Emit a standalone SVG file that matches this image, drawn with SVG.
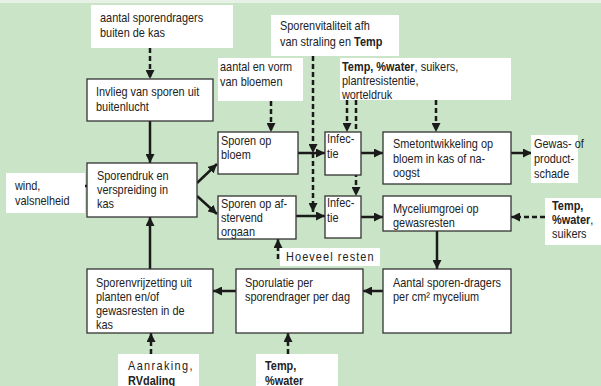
<svg xmlns="http://www.w3.org/2000/svg" width="601" height="386" viewBox="0 0 601 386">
<defs>
<style>
text{font-family:"Liberation Sans",Arial,sans-serif;font-size:12px;fill:#222;transform-box:fill-box;transform-origin:0 50%;transform:scaleX(0.91)}
.b{font-weight:bold}
.box{fill:#fff;stroke:#333;stroke-width:1.3}
.lab{fill:#fff}
.s{stroke:#1a1a1a;stroke-width:2.5;fill:none}
.d{stroke:#1a1a1a;stroke-width:2.5;fill:none;stroke-dasharray:5 3}
</style>
<marker id="ah" markerUnits="userSpaceOnUse" markerWidth="9" markerHeight="9" refX="9" refY="4.5" orient="auto">
<path d="M0,0 L9,4.5 L0,9 z" fill="#1a1a1a"/>
</marker>
</defs>
<rect x="0" y="0" width="601" height="386" fill="#c9e4c6"/>
<rect x="0" y="0" width="601" height="3" fill="#e8f1e6"/>

<g id="connectors">
<line class="d" x1="150" y1="48" x2="150" y2="79" marker-end="url(#ah)"/>
<line class="s" x1="150" y1="121" x2="150" y2="163" marker-end="url(#ah)"/>
<line class="d" x1="52" y1="186" x2="87" y2="186" marker-end="url(#ah)"/>
<line class="s" x1="197" y1="183" x2="217" y2="164" marker-end="url(#ah)"/>
<line class="s" x1="197" y1="196" x2="217" y2="214" marker-end="url(#ah)"/>
<line class="d" x1="271" y1="101" x2="271" y2="132" marker-end="url(#ah)"/>
<line class="s" x1="298" y1="153" x2="325" y2="153" marker-end="url(#ah)"/>
<line class="s" x1="296" y1="216" x2="325" y2="216" marker-end="url(#ah)"/>
<line class="d" x1="313" y1="56" x2="313" y2="153" marker-end="url(#ah)"/>
<line class="d" x1="313" y1="153" x2="313" y2="212" marker-end="url(#ah)"/>
<line class="d" x1="347" y1="100" x2="347" y2="132" marker-end="url(#ah)"/>
<line class="d" x1="356" y1="100" x2="356" y2="196" marker-end="url(#ah)"/>
<line class="d" x1="436" y1="100" x2="436" y2="132" marker-end="url(#ah)"/>
<line class="s" x1="361" y1="153" x2="383" y2="153" marker-end="url(#ah)"/>
<line class="s" x1="361" y1="217" x2="383" y2="217" marker-end="url(#ah)"/>
<line class="s" x1="511" y1="153" x2="532" y2="153" marker-end="url(#ah)"/>
<line class="d" x1="545" y1="217" x2="511" y2="217" marker-end="url(#ah)"/>
<line class="s" x1="437" y1="231" x2="437" y2="269" marker-end="url(#ah)"/>
<line class="s" x1="383" y1="291" x2="363" y2="291" marker-end="url(#ah)"/>
<line class="s" x1="236" y1="291" x2="213" y2="291" marker-end="url(#ah)"/>
<line class="d" x1="278" y1="259" x2="278" y2="239" marker-end="url(#ah)"/>
<line class="d" x1="151" y1="354" x2="151" y2="333" marker-end="url(#ah)"/>
<line class="d" x1="288" y1="354" x2="288" y2="333" marker-end="url(#ah)"/>
<line class="s" x1="150" y1="269" x2="150" y2="217" marker-end="url(#ah)"/>
</g>

<g id="lab-aantal-sporendragers">
<rect class="lab" x="91" y="5" width="142" height="43"/>
<text x="100" y="22">aantal sporendragers</text>
<text x="100" y="37">buiten de kas</text>
</g>
<g id="lab-vitaliteit">
<rect class="lab" x="271" y="15" width="128" height="41"/>
<text x="280" y="30">Sporenvitaliteit afh</text>
<text x="280" y="46">van straling en <tspan class="b">Temp</tspan></text>
</g>
<g id="lab-bloemen">
<rect class="lab" x="218" y="58" width="85" height="43"/>
<text x="220" y="71">aantal en vorm</text>
<text x="220" y="86">van bloemen</text>
</g>
<g id="lab-temp-top">
<rect class="lab" x="340" y="58" width="171" height="42"/>
<text x="342" y="71"><tspan class="b">Temp, %water</tspan>, suikers,</text>
<text x="342" y="85">plantresistentie,</text>
<text x="342" y="99">worteldruk</text>
</g>
<g id="invlieg">
<rect class="box" x="87" y="79" width="126" height="42"/>
<text x="96" y="96">Invlieg van sporen uit</text>
<text x="96" y="111">buitenlucht</text>
</g>
<g id="lab-wind">
<rect class="lab" x="6" y="173" width="79" height="40"/>
<text x="15" y="190">wind,</text>
<text x="15" y="205">valsnelheid</text>
</g>
<g id="sporendruk">
<rect class="box" x="87" y="163" width="110" height="54"/>
<text x="97" y="180">Sporendruk en</text>
<text x="97" y="194">verspreiding in</text>
<text x="97" y="208">kas</text>
</g>
<g id="sporen-bloem">
<rect class="box" x="218" y="132" width="80" height="42"/>
<text x="221" y="145">Sporen op</text>
<text x="221" y="159">bloem</text>
</g>
<g id="sporen-afstervend">
<rect class="box" x="218" y="196" width="78" height="43"/>
<text x="221" y="208">Sporen op af-</text>
<text x="221" y="222">stervend</text>
<text x="221" y="236">orgaan</text>
</g>
<g id="infectie-1">
<rect class="box" x="325" y="132" width="36" height="43"/>
<text x="327" y="143">Infec-</text>
<text x="327" y="158">tie</text>
</g>
<g id="infectie-2">
<rect class="box" x="325" y="196" width="36" height="42"/>
<text x="327" y="207">Infec-</text>
<text x="327" y="222">tie</text>
</g>
<g id="smet">
<rect class="box" x="383" y="132" width="128" height="52"/>
<text x="393" y="148">Smetontwikkeling op</text>
<text x="393" y="163">bloem in kas of na-</text>
<text x="393" y="177">oogst</text>
</g>
<g id="lab-gewas">
<rect class="lab" x="531" y="135" width="47" height="48"/>
<text x="534" y="148">Gewas- of</text>
<text x="534" y="163">product-</text>
<text x="534" y="178">schade</text>
</g>
<g id="mycelium">
<rect class="box" x="383" y="196" width="128" height="35"/>
<text x="393" y="213">Myceliumgroei op</text>
<text x="393" y="227">gewasresten</text>
</g>
<g id="lab-temp-right">
<rect class="lab" x="545" y="198" width="56" height="47"/>
<text x="552" y="210" class="b">Temp,</text>
<text x="552" y="224"><tspan class="b">%water</tspan>,</text>
<text x="552" y="238">suikers</text>
</g>
<g id="lab-hoeveel">
<rect class="lab" x="280" y="248" width="100" height="18"/>
<text x="286" y="261" style="letter-spacing:1.2px">Hoeveel resten</text>
</g>
<g id="aantal-sporendragers">
<rect class="box" x="383" y="269" width="128" height="64"/>
<text x="393" y="287">Aantal sporen-dragers</text>
<text x="393" y="301">per cm² mycelium</text>
</g>
<g id="sporulatie">
<rect class="box" x="236" y="269" width="127" height="64"/>
<text x="245" y="287">Sporulatie per</text>
<text x="245" y="301">sporendrager per dag</text>
</g>
<g id="sporenvrijzetting">
<rect class="box" x="87" y="269" width="126" height="64"/>
<text x="96" y="287">Sporenvrijzetting uit</text>
<text x="96" y="301">planten en/of</text>
<text x="96" y="315">gewasresten in de</text>
<text x="96" y="329">kas</text>
</g>
<g id="lab-aanraking">
<rect class="lab" x="118" y="354" width="81" height="32"/>
<text x="128" y="370" style="letter-spacing:1.5px">Aanraking,</text>
<text x="128" y="385" class="b">RVdaling</text>
</g>
<g id="lab-temp-bottom">
<rect class="lab" x="256" y="354" width="82" height="32"/>
<text x="265" y="370" class="b">Temp,</text>
<text x="265" y="385" class="b">%water</text>
</g>
</svg>
